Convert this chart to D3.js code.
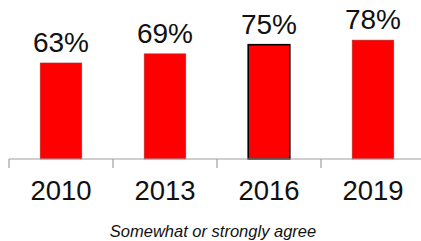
<!DOCTYPE html>
<html>
<head>
<meta charset="utf-8">
<script src="https://cdn.jsdelivr.net/npm/d3@7"></script>
<style>
    body { margin: 0; background: #fff; }
    svg { display: block; }
</style>
</head>
<body>
<div class="chart"></div>
<script>
const years = ['2010', '2013', '2016', '2019']
const values = [63, 69, 75, 78]
const highlighted = ['2016']
const caption = 'Somewhat or strongly agree'

const width = 421,
    height = 241
const baseY = 159

const x = d3.scaleBand()
    .domain(years)
    .range([9, 425])
    .padding(0)

const y = d3.scaleLinear()
    .domain([0, 100])
    .range([baseY, baseY - 152.4])

const svg = d3.select('.chart').append('svg')
    .attr('width', width)
    .attr('height', height)

const barW = x.bandwidth() * 0.4

// bars
svg.selectAll('.bar')
    .data(years)
    .enter().append('rect')
    .attr('class', 'bar')
    .attr('x', d => x(d) + (x.bandwidth() - barW) / 2)
    .attr('y', (d, i) => y(values[i]))
    .attr('width', barW)
    .attr('height', (d, i) => baseY - y(values[i]))
    .style('fill', '#ff0000')
    .style('stroke', d => highlighted.includes(d) ? '#000' : '#b03030')
    .style('stroke-width', d => highlighted.includes(d) ? 1.6 : 0.6)

// value labels
svg.selectAll('.val')
    .data(years)
    .enter().append('text')
    .attr('class', 'val')
    .attr('x', d => x(d) + x.bandwidth() / 2)
    .attr('y', (d, i) => y(values[i]) - 11)
    .attr('text-anchor', 'middle')
    .style('font-family', 'Liberation Sans, Arial, sans-serif')
    .style('font-size', '28px')
    .style('fill', '#111')
    .text((d, i) => values[i] + '%')

// x axis
const axis = d3.axisBottom(x)
    .tickSize(9)
    .tickFormat('')
const gx = svg.append('g')
    .attr('transform', 'translate(0,' + baseY + ')')
    .call(axis)
gx.select('.domain').remove()
gx.append('line')
    .attr('x1', 9)
    .attr('x2', width)
    .attr('stroke', '#a0a0a0')
    .attr('stroke-width', 1.2)
gx.selectAll('.tick line')
    .attr('transform', function () {
        return 'translate(' + (-x.bandwidth() / 2) + ',0)'
    })
    .attr('stroke', '#a0a0a0')
    .attr('stroke-width', 1.2)

// year labels
svg.selectAll('.year')
    .data(years)
    .enter().append('text')
    .attr('class', 'year')
    .attr('x', d => x(d) + x.bandwidth() / 2)
    .attr('y', 200)
    .attr('text-anchor', 'middle')
    .style('font-family', 'Liberation Sans, Arial, sans-serif')
    .style('font-size', '27.5px')
    .style('fill', '#111')
    .text(d => d)

svg.append('text')
    .attr('x', 213)
    .attr('y', 237)
    .attr('text-anchor', 'middle')
    .style('font-family', 'Liberation Sans, Arial, sans-serif')
    .style('font-size', '16.5px')
    .style('font-style', 'italic')
    .style('fill', '#111')
    .text(caption)
</script>
</body>
</html>
